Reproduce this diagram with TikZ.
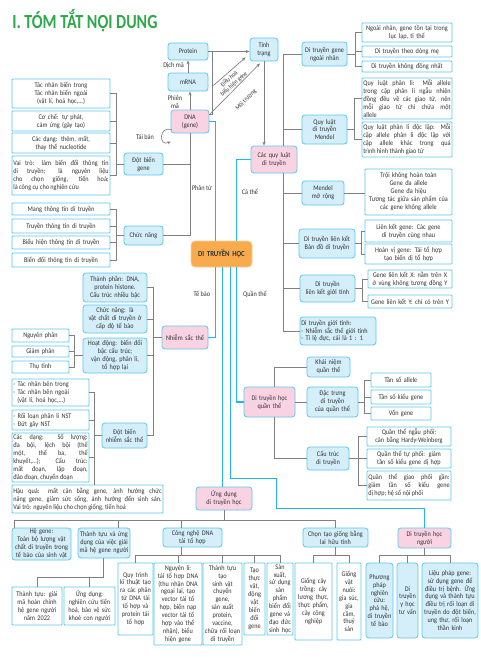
\documentclass[tikz,border=0pt]{standalone}
\usepackage{fontspec}
\usepackage{graphicx}
\setmainfont{Carlito}[FakeStretch=0.88]
\newfontfamily\titlefont{Carlito}[FakeStretch=0.8]
\usetikzlibrary{calc,arrows.meta}
\definecolor{lb}{HTML}{D4EEFA}
\definecolor{bd}{HTML}{5CC8F0}
\definecolor{pk}{HTML}{FAD3E3}
\definecolor{og}{HTML}{F8AB4C}
\definecolor{cy}{HTML}{22B4EA}
\definecolor{gr}{HTML}{808080}
\definecolor{tg}{HTML}{2EA84A}
\definecolor{txt}{HTML}{333333}
\newcommand\mybox[7]{%
  \pgfmathsetmacro\mbw{(#5-#3)*0.75}%
  \pgfmathsetmacro\mbh{(#6-#4)*0.75}%
  \pgfmathsetmacro\mbt{(#5-#3)*0.75-2}%
  \node[#1, minimum width=\mbw pt, minimum height=\mbh pt, text width=\mbt pt] (#2) at ({(#3+#5)/2},{(#4+#6)/2}) {#7};}
\begin{document}
\begin{tikzpicture}[x=0.75pt,y=-0.75pt,
 every node/.style={font=\fontsize{5.3}{5.95}\selectfont, text=txt},
 base/.style={draw=bd, line width=0.6pt, inner xsep=1pt, inner ysep=0.3pt, align=center},
 wbox/.style={base, fill=white, rounded corners=0.6pt},
 bbox/.style={base, fill=lb, rounded corners=2.2pt},
 pbox/.style={base, fill=pk, rounded corners=2.2pt},
 obox/.style={base, fill=og, draw=og!60!white, rounded corners=3pt, font=\fontsize{5.8}{6.5}\selectfont\bfseries},
 gl/.style={draw=gr, line width=0.5pt},
 gar/.style={gl, -{Stealth[length=3pt,width=2.4pt]}},
 cl/.style={draw=cy, line width=1.1pt},
 lbl/.style={inner sep=0pt, align=center, font=\fontsize{5.3}{6}\selectfont},
 rlbl/.style={inner sep=0pt, align=center, font=\fontsize{4.8}{5.3}\selectfont}]
\useasboundingbox (0,0) rectangle (480,658);
\fill[white] (0,0) rectangle (480,658);
% title
\node[anchor=west, inner sep=0pt, text=tg, font=\titlefont\fontsize{15}{15}\selectfont\bfseries] (title) at (12,21) {I. TÓM TẮT NỘI DUNG};
% ---------- left top: Dot bien gene
\mybox{wbox}{n1}{12}{79}{110}{108}{Tác nhân biến trong\\Tác nhân biến ngoài\\(vật lí, hoá học,...)}
\mybox{wbox}{n2}{12}{111}{110}{131}{Cơ chế: tự phát,\\cảm ứng (gây tạo)}
\mybox{wbox}{n3}{12}{133}{110}{153}{Các dạng: thêm, mất,\\thay thế nucleotide}
\mybox{wbox,align=justify}{n4}{12}{156}{110}{195}{Vai trò: làm biến đổi thông tin\linebreak di truyền; là nguyên liệu\linebreak cho chọn giống, tiến hoá;\linebreak là công cụ cho nghiên cứu}
\mybox{bbox}{dbg}{124}{153}{163}{175}{Đột biến\\gene}
% Chuc nang
\mybox{wbox}{c1}{12}{203}{110}{215}{Mang thông tin di truyền}
\mybox{wbox}{c2}{12}{219}{110}{233}{Truyền thông tin di truyền}
\mybox{wbox}{c3}{12}{236}{110}{249}{Biểu hiện thông tin di truyền}
\mybox{wbox}{c4}{12}{253}{110}{267}{Biến đổi thông tin di truyền}
\mybox{bbox}{cn}{124}{226}{163}{245}{Chức năng}
% molecular
\mybox{bbox}{prot}{168}{43}{208}{60}{Protein}
\mybox{bbox}{mrna}{168}{73}{208}{91}{mRNA}
\mybox{pbox}{dna}{171}{110}{209}{133}{DNA\\(gene)}
\mybox{bbox}{tt}{250}{38}{278}{61}{Tính\\trạng}
\mybox{pbox}{qldt}{251}{146}{297}{173}{Các quy luật\\di truyền}
\node[lbl] (ldm) at (173.5,66) {Dịch mã};
\node[lbl] (lpm) at (175,102) {Phiên\\mã};
\node[lbl] (ltb) at (145,137) {Tái bản};
\node[rlbl, rotate=42] (ldh) at (231.5,81.5) {Điều hoà\\biểu hiện gene};
\node[rlbl, rotate=45] (lmt) at (246,100) {Môi trường};
% center
\mybox{obox}{ctr}{191}{241}{252}{267}{DI TRUYỀN HỌC}
\node[lbl] (lpt) at (202,188) {Phân tử};
\node[lbl] (lct) at (250,192) {Cá thể};
\node[lbl] (ltbo) at (202,294) {Tế bào};
\node[lbl] (lqt) at (255,294) {Quần thể};
% ---------- cell
\mybox{bbox}{t1}{83}{273}{147}{302}{Thành phần: DNA,\\protein histone.\\Cấu trúc nhiều bậc}
\mybox{bbox}{t2}{83}{305}{147}{333}{Chức năng: là\\vật chất di truyền ở\\cấp độ tế bào}
\mybox{bbox}{t3}{83}{338}{147}{373}{Hoạt động: biến đổi\\bậc cấu trúc;\\vận động, phân li,\\tổ hợp lại}
\mybox{pbox}{nst}{162}{326}{208}{349}{Nhiễm sắc thể}
\mybox{bbox}{dbn}{102}{423}{147}{448}{Đột biến\\nhiễm sắc thể}
\mybox{wbox}{h1}{12}{329}{69}{342}{Nguyên phân}
\mybox{wbox}{h2}{12}{346}{69}{357}{Giảm phân}
\mybox{wbox}{h3}{12}{361}{69}{373}{Thụ tinh}
\mybox{wbox,align=left}{d1}{12}{379}{89}{406}{- Tác nhân bên trong\\- Tác nhân bên ngoài\\\hspace*{3pt}(vật lí, hoá học,...)}
\mybox{wbox,align=left}{d2}{12}{410}{89}{430}{- Rối loạn phân li NST\\- Đứt gãy NST}
\mybox{wbox,align=justify}{d3}{12}{433}{89}{482}{Các dạng: Số lượng:\linebreak đa bội, lệch bội (thể\linebreak một, thể ba, thể\linebreak khuyết,...); Cấu trúc:\linebreak mất đoạn, lặp đoạn,\linebreak đảo đoạn, chuyển đoạn}
\mybox{wbox,align=justify}{d4}{12}{485}{163}{513}{Hậu quả: mất cân bằng gene, ảnh hưởng chức\linebreak năng gene, giảm sức sống, ảnh hưởng đến sinh sản.\linebreak Vai trò: nguyên liệu cho chọn giống, tiến hoá}
% ---------- right column
\mybox{bbox}{g0}{302}{42}{347}{66}{Di truyền gene\\ngoài nhân}
\mybox{wbox}{g1}{362}{23}{452}{42}{Ngoài nhân, gene tồn tại trong\\lục lạp, ti thể}
\mybox{wbox}{g2}{362}{46}{452}{57}{Di truyền theo dòng mẹ}
\mybox{wbox}{g3}{362}{61}{452}{72}{Di truyền không đồng nhất}
\mybox{bbox}{m0}{302}{115}{347}{144}{Quy luật\\di truyền\\Mendel}
\mybox{wbox,align=justify}{m1}{362}{78}{452}{119}{Quy luật phân li: Mỗi allele\linebreak trong cặp phân li ngẫu nhiên\linebreak đồng đều về các giao tử, nên\linebreak mỗi giao tử chỉ chứa một\linebreak allele}
\mybox{wbox,align=justify}{m2}{362}{122}{452}{157}{Quy luật phân li độc lập: Mỗi\linebreak cặp allele phân li độc lập với\linebreak cặp allele khác trong quá\linebreak trình hình thành giao tử}
\mybox{bbox}{r0}{302}{181}{344}{205}{Mendel\\mở rộng}
\mybox{wbox}{r1}{365}{169}{452}{215}{Trội không hoàn toàn\\Gene đa allele\\Gene đa hiệu\\Tương tác giữa sản phẩm của\\các gene không allele}
\mybox{bbox}{lk0}{299}{229}{355}{258}{Di truyền liên kết\\Bản đồ di truyền}
\mybox{wbox}{lk1}{365}{220}{452}{242}{Liên kết gene: Các gene\\di truyền cùng nhau}
\mybox{wbox}{lk2}{365}{244}{452}{264}{Hoán vị gene: Tái tổ hợp\\tạo biến dị tổ hợp}
\mybox{bbox}{gt0}{300}{275}{355}{302}{Di truyền\\liên kết giới tính}
\mybox{wbox}{gt1}{368}{270}{452}{288}{Gene liên kết X: nằm trên X\\ở vùng không tương đồng Y}
\mybox{wbox}{gt2}{368}{295}{452}{308}{Gene liên kết Y: chỉ có trên Y}
\mybox{bbox,align=left}{sx}{300}{317}{376}{345}{Di truyền giới tính:\\- Nhiễm sắc thể giới tính\\- Tỉ lệ đực, cái là 1 : 1}
% ---------- population
\mybox{pbox}{pop}{244}{387}{295}{417}{Di truyền học\\quần thể}
\mybox{bbox}{k1}{307}{357}{350}{377}{Khái niệm\\quần thể}
\mybox{bbox}{k2}{307}{387}{358}{417}{Đặc trưng\\di truyền\\của quần thể}
\mybox{bbox}{k3}{307}{447}{349}{470}{Cấu trúc\\di truyền}
\mybox{wbox}{f1}{371}{373}{431}{387}{Tần số allele}
\mybox{wbox}{f2}{371}{390}{431}{404}{Tần số kiểu gene}
\mybox{wbox}{f3}{371}{407}{431}{420}{Vốn gene}
\mybox{wbox}{s1}{367}{427}{451}{446}{Quần thể ngẫu phối:\\cân bằng Hardy-Weinberg}
\mybox{wbox}{s2}{367}{449}{451}{468}{Quần thể tự phối: giảm\\tần số kiểu gene dị hợp}
\mybox{wbox,align=justify}{s3}{367}{471}{451}{500}{Quần thể giao phối gần:\linebreak giảm tần số kiểu gene\linebreak dị hợp; hệ số nội phối}
% ---------- applications
\mybox{pbox}{ud}{196}{487}{252}{510}{Ứng dụng\\di truyền học}
\mybox{bbox}{hg}{12}{528}{71}{560}{Hệ gene:\\Toàn bộ lượng vật\\chất di truyền trong\\tế bào của sinh vật}
\mybox{bbox}{tt2}{78}{528}{130}{558}{Thành tựu và ứng\\dụng của việc giải\\mã hệ gene người}
\mybox{bbox}{cn2}{163}{528}{222}{547}{Công nghệ DNA\\tái tổ hợp}
\mybox{bbox}{ct}{303}{528}{368}{547}{Chọn tạo giống bằng\\lai hữu tính}
\mybox{pbox}{ng}{398}{528}{451}{548}{Di truyền học\\người}
\mybox{wbox}{a1}{12}{587}{62}{625}{Thành tựu: giải\\mã hoàn chỉnh\\hệ gene người\\năm 2022}
\mybox{wbox}{a2}{64}{587}{115}{625}{Ứng dụng:\\nghiên cứu tiến\\hoá, bảo vệ sức\\khoẻ con người}
\mybox{wbox}{q1}{118}{563}{153}{635}{Quy trình\\kĩ thuật tạo\\ra các phân\\tử DNA tái\\tổ hợp và\\protein tái\\tổ hợp}
\mybox{wbox}{q2}{154}{563}{202}{645}{Nguyên lí:\\tái tổ hợp DNA\\(thu nhận DNA\\ngoại lai, tạo\\vector tái tổ\\hợp, biến nạp\\vector tái tổ\\hợp vào thể\\nhận), biểu\\hiện gene}
\mybox{wbox}{q3}{203}{563}{242}{645}{Thành tựu\\tạo\\sinh vật\\chuyển\\gene,\\sản xuất\\protein,\\vaccine,\\chữa rối loạn\\di truyền}
\mybox{wbox}{q4}{244}{563}{265}{635}{Tạo\\thực\\vật,\\động\\vật\\biến\\đổi\\gene}
\mybox{wbox}{q5}{267}{563}{293}{635}{Sản xuất,\\sử dụng\\sản\\phẩm\\biến đổi\\gene và\\đạo đức\\sinh học}
\mybox{wbox}{cc1}{295}{563}{332}{640}{Giống cây\\trồng: cây\\lương thực,\\thực phẩm,\\cây công\\nghiệp}
\mybox{wbox}{cc2}{337}{563}{361}{640}{Giống\\vật nuôi:\\gia súc,\\gia cầm,\\thuỷ\\sản}
\mybox{bbox}{p1}{366}{563}{393}{638}{Phương\\pháp\\nghiên\\cứu:\\phả hệ,\\di truyền\\tế bào}
\mybox{bbox}{p2}{397}{563}{418}{638}{Di\\truyền\\y học\\tư vấn}
\mybox{bbox}{p3}{422}{563}{478}{638}{Liệu pháp gene:\\sử dụng gene để\\điều trị bệnh. Ứng\\dụng và thành tựu\\điều trị rối loạn di\\truyền do đột biến,\\ung thư, rối loạn\\thần kinh}
% ================= connectors
\coordinate (bA) at ($(dbg.west)+(-7,0)$);
\foreach \n in {n1,n2,n3,n4} \draw[gl] (\n.east) -| (bA);
\draw[gl] (dbg.west) -- (bA);
\coordinate (bB) at ($(cn.west)+(-7,0)$);
\foreach \n in {c1,c2,c3,c4} \draw[gl] (\n.east) -| (bB);
\draw[gl] (cn.west) -- (bB);
\draw[gl] (dna.south) |- (cn.east);
\draw[gl] (dbg.east) -| (dna.south);
% molecular arrows
\draw[gar] (dna.north) -- (dna.north |- mrna.south);
\draw[gar] (mrna.north) -- (prot.south);
\draw[gar] (prot.east) -- (prot.east -| tt.west);
\coordinate (jv) at ($(prot.east)+(4,0)$);
\draw[gl] (jv) |- ($(dna.north east)+(0,5)$);
\draw[gar] ($(jv)+(1,34)$) -- ($(tt.south west)+(-4,-4)$);
\draw[gar] ($(dna.north east)+(0,5)$) -- ($(tt.south)+(-4,2)$);
\draw[gar] (tt.south) -- (tt.south |- qldt.north);
\draw[gl, -{Stealth[length=2.5pt,width=2.2pt]}] ($(dna.west)+(1,8)$) .. controls ($(dna.west)+(-12,4)$) and ($(dna.west)+(-12,26)$) .. ($(dna.west)+(0,20)$);
% cyan main branches
\coordinate (cA) at ($(ctr.north west)+(25,0)$);
\coordinate (cB) at ($(ctr.north west)+(46,0)$);
\coordinate (cC) at ($(ctr.south west)+(25,0)$);
\coordinate (cD) at ($(ctr.south west)+(32,0)$);
\coordinate (cE) at ($(ctr.south west)+(40,0)$);
\coordinate (cF) at ($(ctr.south west)+(46,0)$);
\draw[cl] (dna.east) -| (cA);
\draw[cl] (qldt.west) -| (cB);
\draw[cl] (cC) |- (nst.east);
\draw[cl] (cD) -- (cD |- ud.north);
\draw[cl] (cF) |- (pop.west);
\draw[cl] (cE) -- ++(0,211) -- ++(46,0) -- ++(0,30) -| (ng.north);
% cell
\coordinate (bC) at ($(nst.west)+(-8,0)$);
\foreach \n in {t1,t2,t3,dbn} \draw[gl] (\n.east) -| (bC);
\draw[gl] (nst.west) -- (bC);
\coordinate (bD) at ($(t3.west)+(-8,0)$);
\foreach \n in {h1,h2,h3} \draw[gl] (\n.east) -| (bD);
\draw[gl] (t3.west) -- (bD);
\coordinate (bE) at ($(dbn.west)+(-7,0)$);
\foreach \n in {d1,d2,d3} \draw[gl] (\n.east) -| (bE);
\draw[gl] (dbn.west) -- (bE);
\draw[gl] (bE) -- (bE |- d4.north);
% right column
\coordinate (sp1) at ($(qldt.north west)+(33,0)$);
\coordinate (sp2) at ($(qldt.south west)+(33,0)$);
\draw[gl] (g0.west) -| (sp1);
\draw[gl] (m0.west) -| (sp1);
\foreach \n in {r0,lk0,gt0,sx} \draw[gl] (\n.west) -| (sp2);
\coordinate (bG) at ($(g0.east)+(8,0)$);
\foreach \n in {g1,g2,g3} \draw[gl] (\n.west) -| (bG);
\draw[gl] (g0.east) -- (bG);
\coordinate (bM) at ($(m0.east)+(7,0)$);
\foreach \n in {m1,m2} \draw[gl] (\n.west) -| (bM);
\draw[gl] (m0.east) -- (bM);
\draw[gl] (r0.east) -- (r0.east -| r1.west);
\coordinate (bL) at ($(lk0.east)+(6,0)$);
\foreach \n in {lk1,lk2} \draw[gl] (\n.west) -| (bL);
\draw[gl] (lk0.east) -- (bL);
\coordinate (bT) at ($(gt0.east)+(7,0)$);
\foreach \n in {gt1,gt2} \draw[gl] (\n.west) -| (bT);
\draw[gl] (gt0.east) -- (bT);
% population
\coordinate (pp1) at ($(pop.north)+(4.5,0)$);
\coordinate (pp2) at ($(pop.south)+(4.5,0)$);
\draw[gl] (k1.west) -| (pp1);
\draw[gl] (pop.east) -- (k2.west);
\draw[gl] (k3.west) -| (pp2);
\coordinate (bK) at ($(k2.east)+(6,0)$);
\foreach \n in {f1,f2,f3} \draw[gl] (\n.west) -| (bK);
\draw[gl] (k2.east) -- (bK);
\coordinate (bS) at ($(k3.east)+(9,0)$);
\foreach \n in {s1,s2,s3} \draw[gl] (\n.west) -| (bS);
\draw[gl] (k3.east) -- (bS);
% applications
\coordinate (bus) at ($(ud.south)+(0,10)$);
\draw[gl] (ud.south) -- (bus);
\draw[gl] ($(hg.north west)+(3,0)$) |- (bus) -| (ct.north);
\draw[gl] ($(tt2.north east)+(-12,0)$) |- (bus);
\draw[gl] ($(cn2.north west)+(19,0)$) |- (bus);
\coordinate (bus2) at ($(tt2.south west)+(26,19)$);
\draw[gl] ($(tt2.south west)+(26,0)$) -- (bus2);
\foreach \n in {a1,a2} \draw[gl] (\n.north) |- (bus2);
\coordinate (bus3) at ($(cn2.south west)+(19,8)$);
\draw[gl] ($(cn2.south west)+(19,0)$) -- (bus3);
\foreach \n in {q1,q2,q3,q4,q5} \draw[gl] (\n.north) |- (bus3);
\coordinate (bus4) at ($(ct.south)+(0,8)$);
\draw[gl] (ct.south) -- (bus4);
\foreach \n in {cc1,cc2} \draw[gl] (\n.north) |- (bus4);
\coordinate (bus5) at ($(ng.south)+(0,7)$);
\draw[gl] (ng.south) -- (bus5);
\foreach \n in {p1,p2,p3} \draw[gl] (\n.north) |- (bus5);
\end{tikzpicture}
\end{document}
